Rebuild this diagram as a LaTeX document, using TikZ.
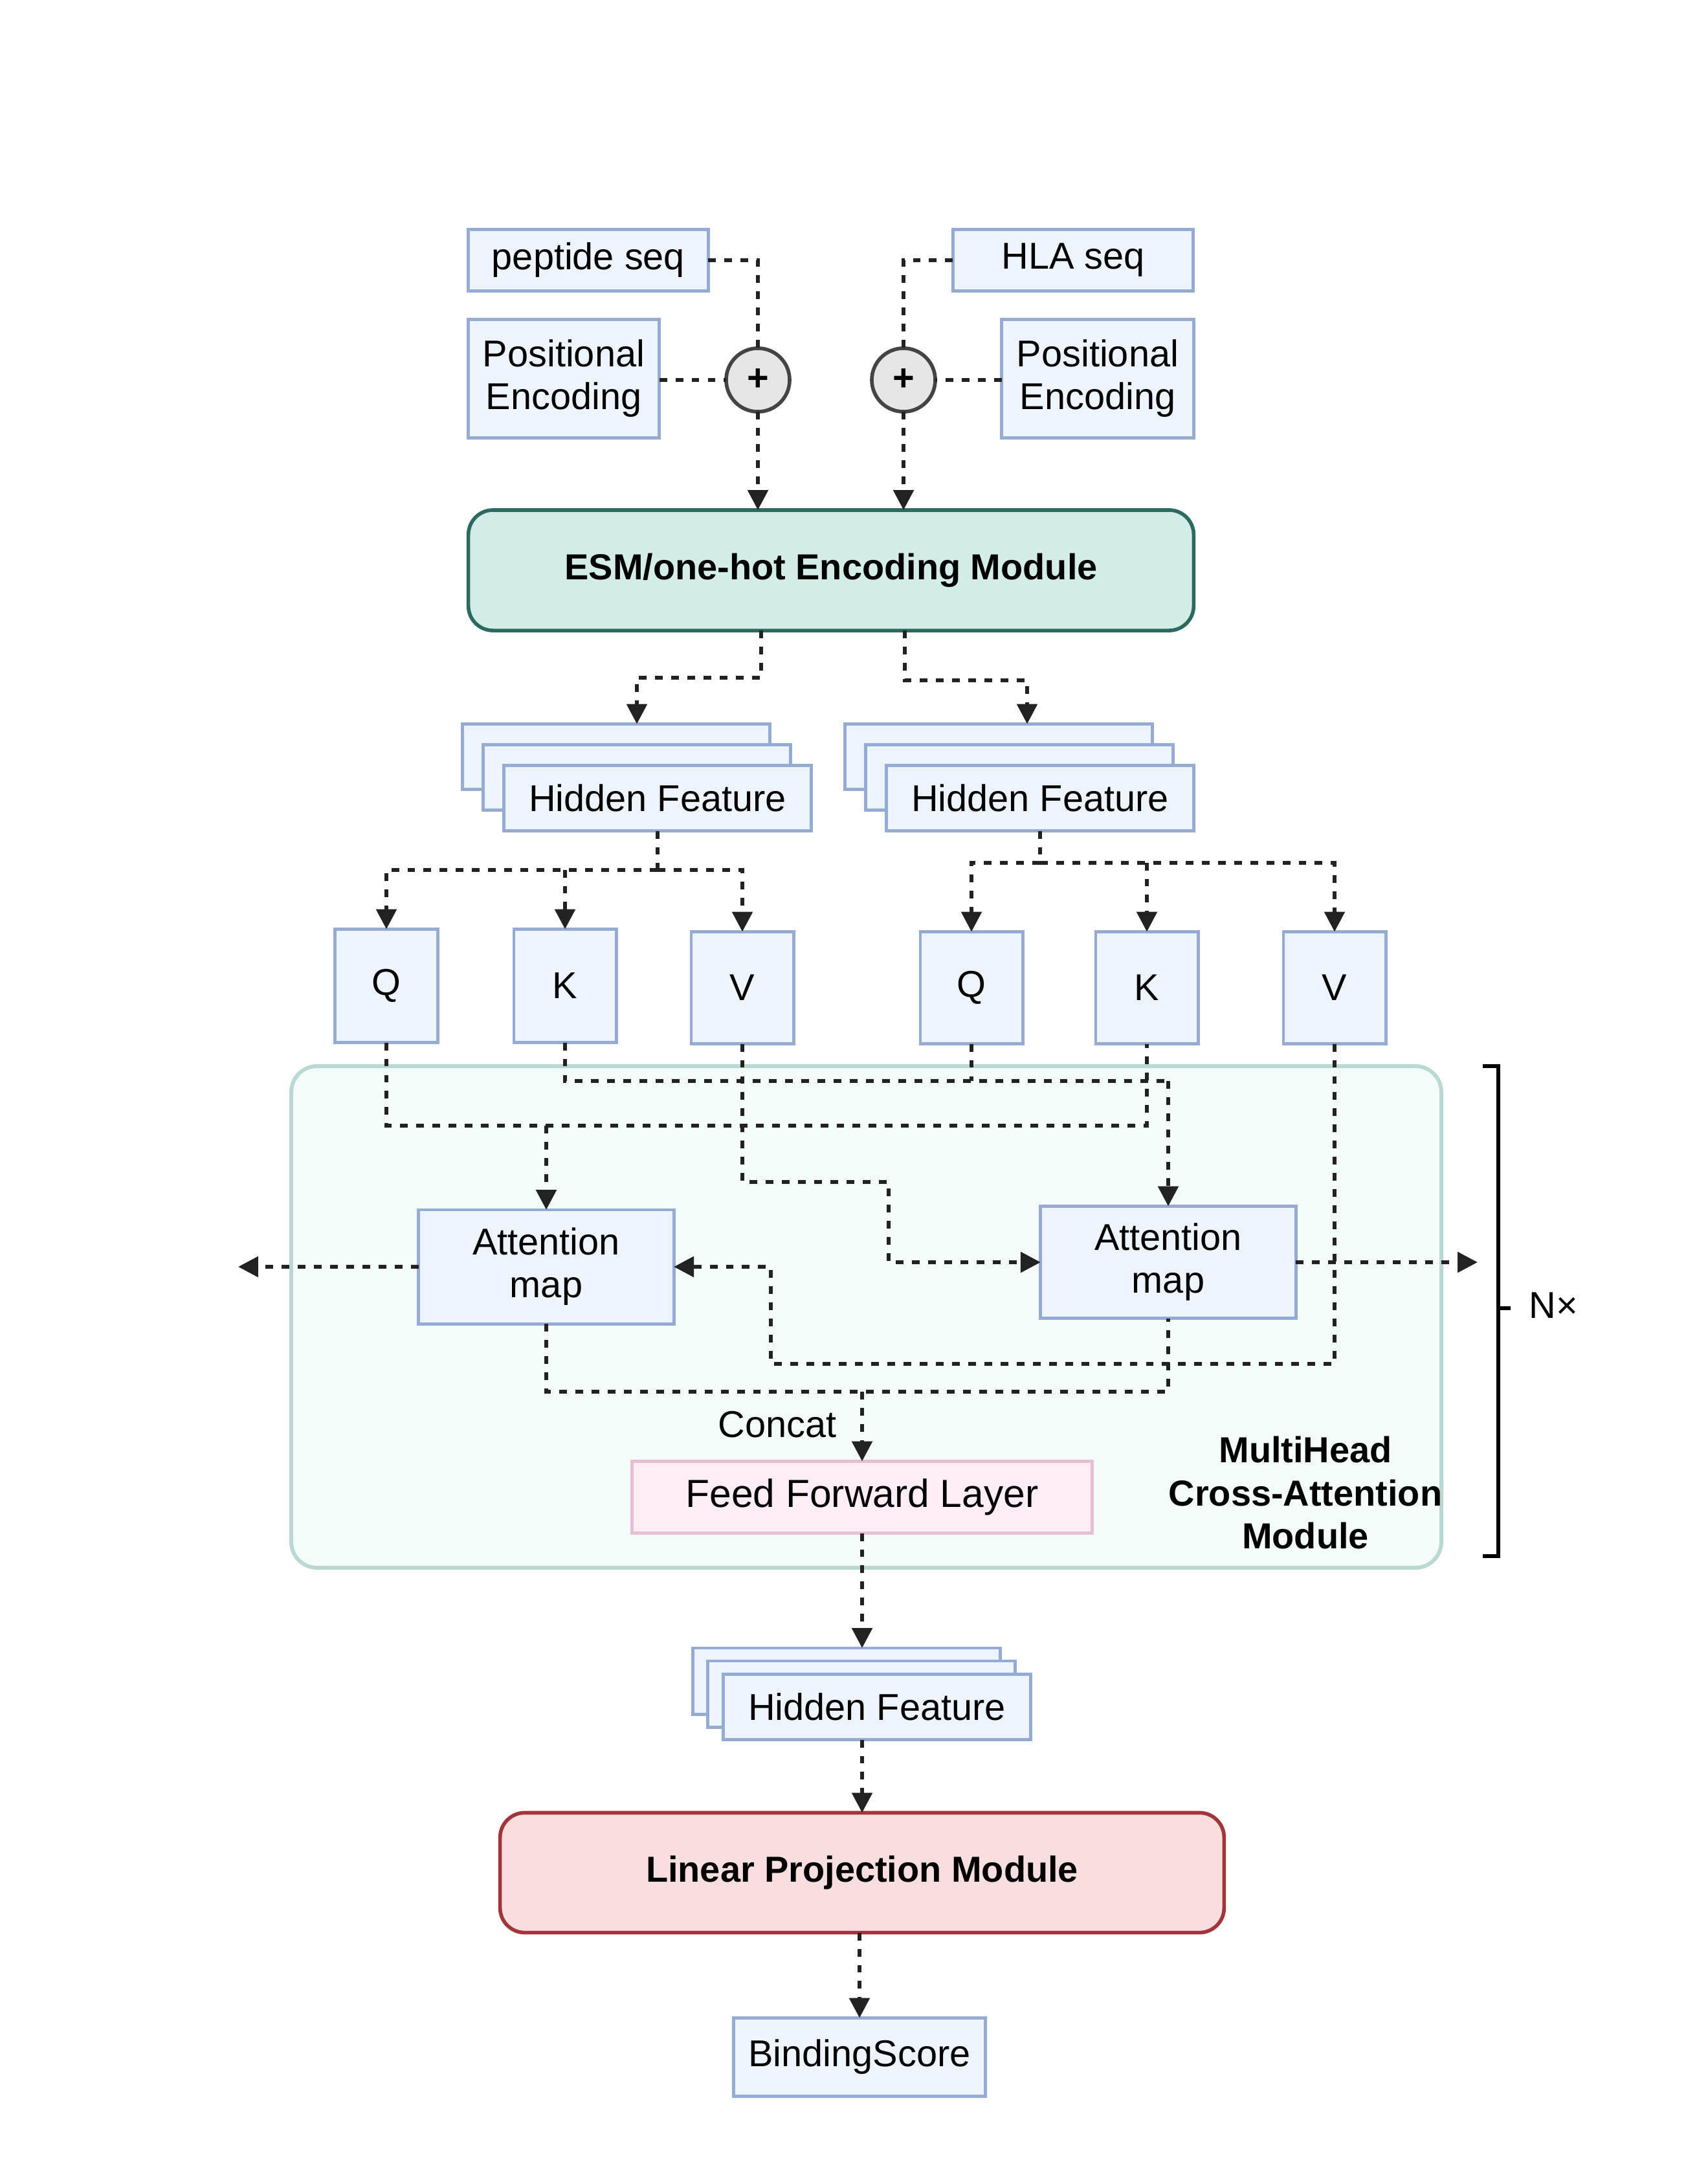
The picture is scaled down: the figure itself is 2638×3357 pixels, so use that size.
\documentclass[tikz,border=0pt]{standalone}
\usepackage{fontspec}
\setmainfont{Liberation Sans}
\usetikzlibrary{arrows.meta,calc}
\definecolor{boxfill}{HTML}{EEF4FC}
\definecolor{boxdraw}{HTML}{96ABD3}
\definecolor{esmfill}{HTML}{D3EDE9}
\definecolor{esmdraw}{HTML}{2B6A5E}
\definecolor{modfill}{HTML}{F3FCF8}
\definecolor{moddraw}{HTML}{BAD9D4}
\definecolor{fflfill}{HTML}{FDEEF6}
\definecolor{ffldraw}{HTML}{E8BFD2}
\definecolor{lpmfill}{HTML}{F9DEDF}
\definecolor{lpmdraw}{HTML}{A2343A}
\definecolor{circfill}{HTML}{E6E6E6}
\definecolor{circdraw}{HTML}{444444}
\definecolor{linec}{HTML}{222222}
\begin{document}
\begin{tikzpicture}[x=0.01cm,y=-0.01cm,
  txt/.style={font=\fontsize{16.4}{18.8}\selectfont, align=center},
  box/.style={txt, draw=boxdraw, fill=boxfill, line width=1.4pt, inner sep=0pt, outer sep=0pt},
  modbox/.style={txt, font=\fontsize{15.9}{18.8}\selectfont\bfseries, line width=1.6pt, rounded corners=0.38cm, inner sep=0pt, outer sep=0pt},
  conn/.style={draw=linec, line width=1.7pt, dash pattern=on 3.4pt off 3.7pt},
  arr/.style={conn, -{Triangle[length=8.8pt,width=8.8pt]}},
  plus/.style={circle, draw=circdraw, fill=circfill, line width=1.6pt, minimum size=0.98cm, inner sep=0pt, outer sep=0pt, font=\fontsize{16.4}{18.8}\selectfont\bfseries}
]
\useasboundingbox (0,0) rectangle (2638,3357);

% module background
\draw[draw=moddraw, fill=modfill, line width=1.7pt, rounded corners=0.4cm] (450,1647) rectangle (2227,2422);

% inputs
\node[box, minimum width=3.70cm, minimum height=0.95cm] (pep) at (909,402) {peptide seq};
\node[box, minimum width=3.71cm, minimum height=0.95cm] (hla) at (1658,402) {HLA seq};
\node[box, minimum width=2.95cm, minimum height=1.82cm] (pe1) at (871,585) {Positional\\Encoding};
\node[box, minimum width=2.96cm, minimum height=1.82cm] (pe2) at (1696,585) {Positional\\Encoding};
\node[plus] (plus1) at (1171,587) {+};
\node[plus] (plus2) at (1396,587) {+};

\node[modbox, draw=esmdraw, fill=esmfill, minimum width=11.20cm, minimum height=1.86cm] (esm) at (1284,881) {ESM/one-hot Encoding Module};

% hidden feature stacks
\node[box, minimum width=4.74cm, minimum height=1.01cm] (hfLback) at (952,1169) {};
\node[box, minimum width=4.74cm, minimum height=1.01cm] (hfLmid) at (984,1201) {};
\node[box, minimum width=4.74cm, minimum height=1.01cm] (hfL) at (1016,1233) {Hidden Feature};
\node[box, minimum width=4.74cm, minimum height=1.01cm] (hfRback) at (1543,1169) {};
\node[box, minimum width=4.74cm, minimum height=1.01cm] (hfRmid) at (1575,1201) {};
\node[box, minimum width=4.74cm, minimum height=1.01cm] (hfR) at (1607,1233) {Hidden Feature};

% Q K V
\node[box, minimum width=1.58cm, minimum height=1.75cm] (qL) at (597,1523) {Q};
\node[box, minimum width=1.58cm, minimum height=1.75cm] (kL) at (873,1523) {K};
\node[box, minimum width=1.58cm, minimum height=1.73cm] (vL) at (1147,1526) {V};
\node[box, minimum width=1.58cm, minimum height=1.73cm] (qR) at (1501,1526) {Q};
\node[box, minimum width=1.58cm, minimum height=1.73cm] (kR) at (1772,1526) {K};
\node[box, minimum width=1.58cm, minimum height=1.73cm] (vR) at (2062,1526) {V};

% attention maps
\node[box, minimum width=3.94cm, minimum height=1.76cm] (attL) at (844,1957) {Attention\\map};
\node[box, minimum width=3.94cm, minimum height=1.73cm] (attR) at (1805,1950) {Attention\\map};

\node[box, draw=ffldraw, fill=fflfill, minimum width=7.11cm, minimum height=1.11cm, font=\fontsize{17.2}{19}\selectfont] (ffl) at (1332,2313) {Feed Forward Layer};
\node[txt, font=\fontsize{15.9}{18.8}\selectfont\bfseries] (mhlabel) at (2017,2306) {MultiHead\\Cross-Attention\\Module};
\node[txt] (concat) at (1201,2201) {Concat};

% bottom hidden feature
\node[box, minimum width=4.74cm, minimum height=1.02cm] (hfBback) at (1308,2597) {};
\node[box, minimum width=4.74cm, minimum height=1.02cm] (hfBmid) at (1331,2617) {};
\node[box, minimum width=4.74cm, minimum height=1.01cm] (hfB) at (1355,2637) {Hidden Feature};

\node[modbox, draw=lpmdraw, fill=lpmfill, minimum width=11.18cm, minimum height=1.85cm] (lpm) at (1332,2893) {Linear Projection Module};
\node[box, minimum width=3.89cm, minimum height=1.21cm] (bs) at (1328,3178) {BindingScore};

% level coordinates
\coordinate (yA) at (0,1670);
\coordinate (yB) at (0,1739);
\coordinate (yF) at (0,2150);
\coordinate (cV) at (1373,1826);
\coordinate (cW) at (1191,2107);
\coordinate (outL) at (368,1957);
\coordinate (outR) at (2283,1950);
\coordinate (eL) at (1176,0);
\coordinate (eR) at (1398,0);

% top connectors
\draw[conn] (pep.east) -| (plus1.north);
\draw[conn] (hla.west) -| (plus2.north);
\draw[conn] (pe1.east |- plus1.west) -- (plus1.west);
\draw[conn] (pe2.west |- plus2.east) -- (plus2.east);
\draw[arr] (plus1.south) -- (plus1.south |- esm.north);
\draw[arr] (plus2.south) -- (plus2.south |- esm.north);

\draw[arr] (esm.south -| eL) -- ++(0,73) -| (hfLmid.center |- hfLback.north);
\draw[arr] (esm.south -| eR) -- ++(0,77) -| ([xshift=0.12cm]hfRmid.center |- hfRback.north);

\draw[conn] (hfL.south) -- ++(0,60) coordinate (jL);
\draw[arr] (jL) -| (qL.north);
\draw[arr] (jL) -| (vL.north);
\draw[arr] (kL.north |- jL) -- (kL.north);
\draw[conn] (hfR.south) -- ++(0,49) coordinate (jR);
\draw[arr] (jR) -| (qR.north);
\draw[arr] (jR) -| (vR.north);
\draw[arr] (kR.north |- jR) -- (kR.north);

% module connectors
\draw[conn] (qL.south) |- (kR.south |- yB) -- (kR.south);
\draw[arr] (attL.north |- yB) -- (attL.north);
\draw[conn] (kL.south) |- (attR.north |- yA);
\draw[conn] (qR.south) -- (qR.south |- yA);
\draw[arr] (attR.north |- yA) -- (attR.north);
\draw[arr] (vL.south) |- (cV) |- (attR.west);
\draw[arr] (vR.south) |- (cW) |- (attL.east);
\draw[arr] (attL.west) -- (outL);
\draw[arr] (attR.east) -- (outR);
\draw[conn] (attL.south) |- (attR.south |- yF) -- (attR.south);
\draw[arr] (ffl.north |- yF) -- (ffl.north);

\draw[arr] (ffl.south) -- (ffl.south |- hfBback.north);
\draw[arr] (lpm.north |- hfB.south) -- (lpm.north);
\draw[arr] (bs.north |- lpm.south) -- (bs.north);

% bracket
\draw[draw=black, line width=1.6pt] (2291,1647) -- (2315,1647) -- (2315,2404) -- (2291,2404);
\draw[draw=black, line width=1.6pt] (2315,2021) -- (2334,2021);
\node[txt, anchor=west] (nx) at (2350,2017) {N×};
\end{tikzpicture}
\end{document}
